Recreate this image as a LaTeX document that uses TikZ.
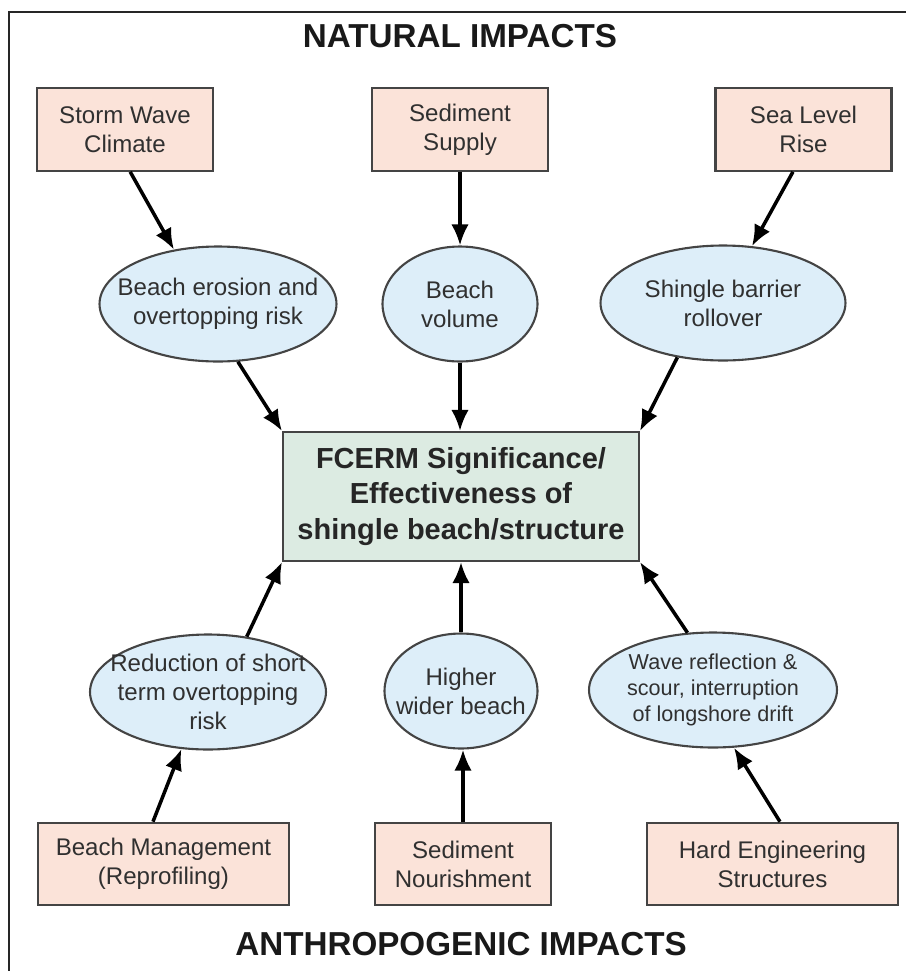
\documentclass[tikz,border=0pt]{standalone}
\usepackage{fontspec}
\setmainfont{Liberation Sans}
\usepackage{xcolor}
\usetikzlibrary{shapes.geometric,arrows.meta}
\definecolor{boxpink}{HTML}{FBE3D9}
\definecolor{ellblue}{HTML}{DDEEF9}
\definecolor{boxgreen}{HTML}{DCEBE2}
\definecolor{edgegray}{HTML}{444444}
\definecolor{txtgray}{HTML}{303030}

\begin{document}
\begin{tikzpicture}[x=0.02cm, y=-0.02cm,
  impact/.style={draw=edgegray, line width=1.2pt, fill=boxpink, text=txtgray, align=center,
    font=\fontsize{13.7}{16.5}\selectfont, minimum height=1.65cm, inner sep=0pt},
  effect/.style={ellipse, draw=edgegray, line width=1.2pt, fill=ellblue, minimum height=2.3cm, inner sep=0pt},
  effecttext/.style={text=txtgray, align=center, font=\fontsize{13.7}{16.5}\selectfont},
  smalltext/.style={text=txtgray, align=center, font=\fontsize{12.3}{15}\selectfont},
  heading/.style={anchor=base, text=black!90, font=\fontsize{18.9}{22}\selectfont\bfseries},
  arr/.style={-{Latex[length=12pt,width=10pt]}, line width=2pt, black}]
  \useasboundingbox (0,0) rectangle (906,971);
  \draw[black!85, line width=1.1pt] (9,971) -- (9,12) -- (906,12);

  % headings
  \node[heading] (nat) at (460,47) {NATURAL IMPACTS};
  \node[heading] (anth) at (461,955) {ANTHROPOGENIC IMPACTS};

  % natural drivers
  \node[impact, minimum width=3.52cm] (storm) at (125,129.5) {Storm Wave\\Climate};
  \node[impact, minimum width=3.52cm] (supply) at (460,129.5) {Sediment\\Supply};
  \node[impact, minimum width=3.52cm] (sea) at (803.5,129.5) {Sea Level\\Rise};

  % natural effects
  \node[effect, minimum width=4.74cm, label={[effecttext]center:Beach erosion and\\overtopping risk}] (ero) at (218,304) {};
  \node[effect, minimum width=3.1cm, label={[effecttext]center:Beach\\volume}] (vol) at (460,304) {};
  \node[effect, minimum width=4.9cm, label={[effecttext]center:Shingle barrier\\rollover}] (roll) at (723,303) {};

  % centre
  \node[draw=edgegray, line width=1.2pt, fill=boxgreen, text=black!85, align=center, inner sep=0pt,
    minimum width=7.12cm, minimum height=2.58cm, font=\fontsize{16.5}{20.4}\selectfont\bfseries]
    (fcerm) at (461,496.5) {FCERM Significance/\\Effectiveness of\\shingle beach/structure};

  % anthropogenic effects
  \node[effect, minimum width=4.72cm, label={[effecttext]center:Reduction of short\\term overtopping\\risk}] (red) at (208,692) {};
  \node[effect, minimum width=3.06cm, label={[effecttext]center:Higher\\wider beach}] (wide) at (461,691) {};
  \node[effect, minimum width=4.96cm, label={[smalltext]center:Wave reflection \&\\scour, interruption\\of longshore drift}] (refl) at (713,690) {};

  % anthropogenic drivers
  \node[impact, minimum width=5.02cm] (mgmt) at (163.5,864) {Beach Management\\(Reprofiling)};
  \node[impact, minimum width=3.52cm] (nour) at (463,864) {Sediment\\Nourishment};
  \node[impact, minimum width=5.02cm] (hard) at (772.5,864) {Hard Engineering\\Structures};

  % arrows
  \draw[arr] (storm.277) -- (ero.129);
  \draw[arr] (supply.south) -- (vol.north);
  \draw[arr] (sea.256) -- (roll.63);
  \draw[arr] (ero.289) -- (fcerm.north west);
  \draw[arr] (vol.south) -- (fcerm.north -| vol.south);
  \draw[arr] (roll.230) -- (fcerm.north east);
  \draw[arr] (red.55) -- (fcerm.south west);
  \draw[arr] (wide.north) -- (fcerm.south -| wide.north);
  \draw[arr] (refl.114) -- (fcerm.south east);
  \draw[arr] (mgmt.104) -- (red.245);
  \draw[arr] (nour.north) -- (nour.north |- wide.south);
  \draw[arr] (hard.80) -- (refl.290);
\end{tikzpicture}
\end{document}
